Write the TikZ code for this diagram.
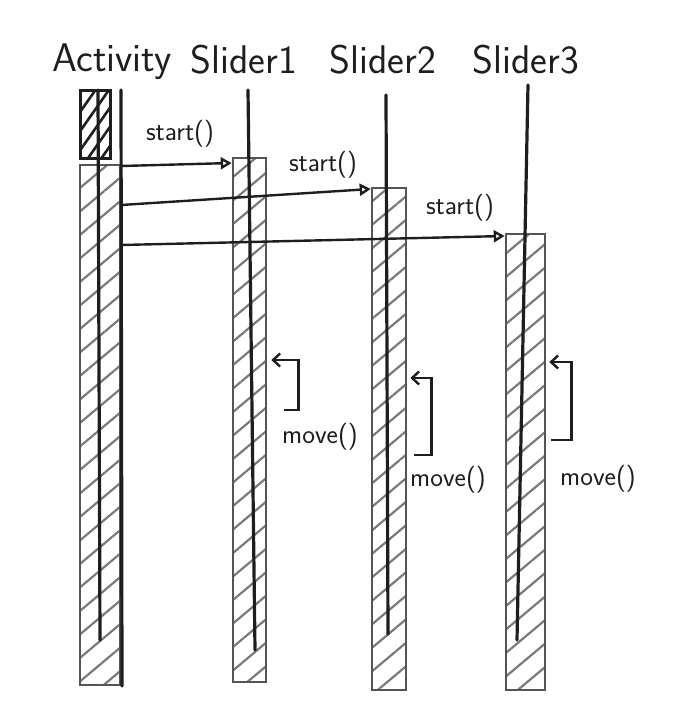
\documentclass[tikz,border=0pt]{standalone}
\usepackage{tikz}
\usetikzlibrary{arrows.meta,calc,patterns.meta}
\definecolor{SketchInk}{HTML}{1E1E1E}
\definecolor{SketchPencil}{HTML}{555555}
\definecolor{SketchHatch}{HTML}{7A7A7A}
\tikzset{
  head/.style={font=\sffamily\fontsize{40}{44}\selectfont,text=SketchInk,inner sep=0pt},
  msglabel/.style={font=\sffamily\fontsize{27}{30}\selectfont,text=SketchInk,inner sep=0pt},
  lifeline/.style={draw=SketchInk,line width=3.2pt,line cap=round},
  actbox/.style={draw=SketchPencil,line width=2.6pt,inner sep=0pt,
    pattern={Lines[angle=40,distance=18pt,line width=2.2pt]},pattern color=SketchHatch},
  headbox/.style={draw=SketchInk,line width=3pt,inner sep=0pt,
    pattern={Lines[angle=55,distance=11pt,line width=2.6pt]},pattern color=SketchInk},
  call/.style={-{Triangle[open,length=11pt,width=12pt,line width=2.4pt]},line width=2.4pt,draw=SketchInk},
  selfcall/.style={-{Straight Barb[length=7pt,width=13pt,line width=2.4pt]},line width=2.4pt,draw=SketchInk}
}
\begin{document}
\begin{tikzpicture}[x=1pt,y=-1pt]
  \useasboundingbox (0,0) rectangle (678,725);

  % Participants.
  \node[head] (act) at (112,62) {Activity};
  \node[head] (sl1) at (244,60) {Slider1};
  \node[head] (sl2) at (383,60) {Slider2};
  \node[head] (sl3) at (526,60) {Slider3};

  % Activation bars.
  \node[actbox,minimum width=40,minimum height=520] (actbar) at (100,425) {};
  \node[actbox,minimum width=33,minimum height=524] (sl1bar) at (249.5,420) {};
  \node[actbox,minimum width=34,minimum height=502] (sl2bar) at (389,439) {};
  \node[actbox,minimum width=39,minimum height=456] (sl3bar) at (525.5,462) {};
  \node[headbox,minimum width=30,minimum height=68] (acthead) at (95,124) {};

  % Lifelines.
  \coordinate (acttop) at (98,90);
  \coordinate (actend) at (100,640);
  \coordinate (actedgetop) at (121,90);
  \coordinate (actedgeend) at (122,686);
  \coordinate (sl1top) at (248,90);
  \coordinate (sl1end) at (255,650);
  \coordinate (sl2top) at (386,95);
  \coordinate (sl2end) at (388,634);
  \coordinate (sl3top) at (528,85);
  \coordinate (sl3end) at (517,640);
  \draw[lifeline] (acttop) -- (actend);
  \draw[lifeline] (actedgetop) -- (actedgeend);
  \draw[lifeline] (sl1top) -- (sl1end);
  \draw[lifeline] (sl2top) -- (sl2end);
  \draw[lifeline] (sl3top) -- (sl3end);

  % start() messages.
  \draw[call] (actbar.east |- 0,166) -- (sl1bar.west |- 0,163);
  \draw[call] (actbar.east |- 0,205) -- (sl2bar.west |- 0,189);
  \draw[call] (actbar.east |- 0,245) -- (sl3bar.west |- 0,236);
  \node[msglabel] (start1) at (180,134) {start()};
  \node[msglabel] (start2) at (323,165) {start()};
  \node[msglabel] (start3) at (460,208) {start()};

  % move() self calls.
  \draw[selfcall] ($(sl1bar.east |- 0,410)+(17,0)$) -- ++(14,0)
    |- ($(sl1bar.east |- 0,360)+(4,0)$);
  \draw[selfcall] ($(sl2bar.east |- 0,455)+(7,0)$) -- ++(17,0)
    |- ($(sl2bar.east |- 0,378)+(3,0)$);
  \draw[selfcall] ($(sl3bar.east |- 0,440)+(5,0)$) -- ++(20,0)
    |- ($(sl3bar.east |- 0,362)+(3,0)$);
  \node[msglabel] (move1) at (320,437) {move()};
  \node[msglabel] (move2) at (448,480) {move()};
  \node[msglabel] (move3) at (598,479) {move()};
\end{tikzpicture}
\end{document}
